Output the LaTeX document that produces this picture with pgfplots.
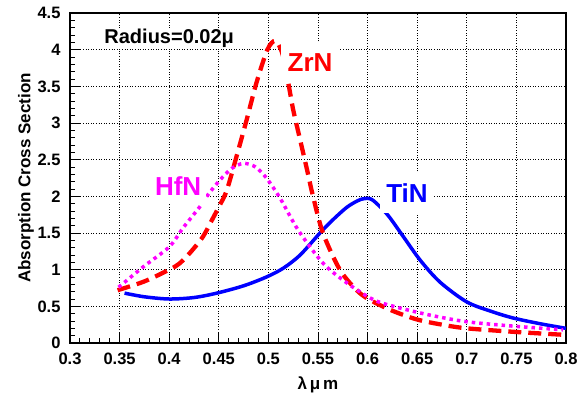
\documentclass[border=0pt]{standalone}
\usepackage{fontspec}
\setmainfont{Liberation Sans}
\usepackage{pgfplots}
\pgfplotsset{compat=1.18}
\definecolor{cRed}{RGB}{255,0,0}
\definecolor{cBlue}{RGB}{0,0,255}
\definecolor{cMag}{RGB}{255,0,255}

\begin{document}
\begin{tikzpicture}
\begin{axis}[
  name=ax, at={(0,0)}, anchor=south west,
  scale only axis, width=496bp, height=330bp,
  xmin=0.3, xmax=0.8, ymin=0, ymax=4.5,
  xtick={0.3,0.35,0.4,0.45,0.5,0.55,0.6,0.65,0.7,0.75,0.8},
  xticklabels={0.3,0.35,0.4,0.45,0.5,0.55,0.6,0.65,0.7,0.75,0.8},
  ytick={0,0.5,1,1.5,2,2.5,3,3.5,4,4.5},
  yticklabels={0,0.5,1,1.5,2,2.5,3,3.5,4,4.5},
  minor x tick num=4, minor y tick num=4,
  tick align=inside, xtick pos=bottom, ytick pos=left,
  major tick length=10bp, minor tick length=5bp,
  every tick/.style={black, line width=1bp},
  grid=major,
  major grid style={black, line width=0.8bp, dash pattern=on 1bp off 1.6bp},
  axis line style={black, line width=1.6bp},
  /pgf/number format/assume math mode=true,
  ticklabel style={font=\bfseries\fontsize{16.5bp}{19bp}\selectfont},
  xticklabel style={anchor=center, yshift=-16bp},
  yticklabel style={xshift=-6bp},
  xlabel={λ\,μ\,m},
  xlabel style={font=\bfseries\fontsize{17bp}{20bp}\selectfont, at={(axis description cs:0.5,-0.127)}, anchor=center},
  ylabel={Absorption Cross Section},
  ylabel style={font=\bfseries\fontsize{17bp}{20bp}\selectfont, at={(axis description cs:-0.0887,0.5)}, anchor=center},
]
% TiN
\addplot[cBlue, line width=3.5bp, smooth] coordinates {
(0.355,0.68)(0.375,0.63)(0.40,0.60)(0.425,0.62)(0.448,0.68)(0.475,0.78)(0.498,0.90)
(0.515,1.02)(0.532,1.20)(0.552,1.50)(0.565,1.68)(0.579,1.85)(0.59,1.94)(0.597,1.97)
(0.605,1.95)(0.62,1.75)(0.635,1.47)(0.653,1.13)(0.673,0.83)(0.70,0.56)(0.725,0.43)
(0.747,0.34)(0.775,0.26)(0.80,0.20)};
% ZrN
\addplot[cRed, line width=4.3bp, dash pattern=on 13bp off 7bp, smooth] coordinates {
(0.348,0.72)(0.375,0.84)(0.40,1.0)(0.41,1.08)(0.421,1.23)(0.434,1.45)(0.444,1.70)
(0.451,1.88)(0.458,2.08)(0.468,2.55)(0.478,3.04)(0.488,3.55)(0.499,4.0)(0.507,4.12)
(0.514,3.95)(0.52,3.55)(0.525,3.18)(0.532,2.77)(0.539,2.36)(0.545,2.0)(0.555,1.5)
(0.572,1.0)(0.589,0.72)(0.602,0.59)(0.625,0.44)(0.65,0.32)(0.675,0.25)(0.70,0.20)
(0.75,0.15)(0.80,0.11)};
% HfN
\addplot[cMag, line width=3.5bp, dash pattern=on 3.5bp off 4bp, smooth] coordinates {
(0.349,0.76)(0.374,1.04)(0.40,1.31)(0.414,1.57)(0.431,1.86)(0.439,2.02)(0.451,2.22)
(0.463,2.38)(0.475,2.45)(0.487,2.40)(0.498,2.25)(0.512,1.97)(0.53,1.54)(0.555,1.09)
(0.579,0.82)(0.606,0.59)(0.629,0.49)(0.663,0.38)(0.70,0.29)(0.747,0.23)(0.797,0.18)};

\node[fill=white, inner sep=1bp, font=\bfseries\fontsize{20bp}{24bp}\selectfont] at (axis cs:0.4,4.15) {Radius=0.02μ};
\node[fill=white, inner xsep=7bp, inner ysep=11bp, text=cRed, font=\bfseries\fontsize{26bp}{30bp}\selectfont] at (axis cs:0.542,3.82) {ZrN};
\node[fill=white, inner xsep=6bp, inner ysep=11bp, text=cBlue, font=\bfseries\fontsize{26bp}{30bp}\selectfont] at (axis cs:0.6397,2.05) {TiN};
\node[fill=white, inner xsep=5bp, inner ysep=9bp, text=cMag, font=\bfseries\fontsize{26bp}{30bp}\selectfont] at (axis cs:0.409,2.14) {HfN};
\end{axis}
\path (-70bp,-55bp) rectangle (515bp,343bp);
\end{tikzpicture}
\end{document}
